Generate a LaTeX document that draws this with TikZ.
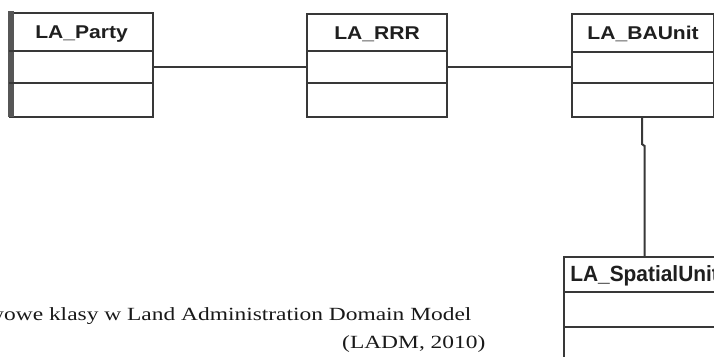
\documentclass[tikz,border=0pt]{standalone}
\usepackage{fontspec}
\setmainfont{Liberation Serif}
\newfontfamily\umlfont[FakeStretch=1.14]{Liberation Sans}
\newfontfamily\umlfontwide[FakeStretch=0.95]{Liberation Sans}
\newfontfamily\capfont[FakeStretch=1.26]{Liberation Serif}
\definecolor{umlline}{HTML}{383838}
\tikzset{
  classbox/.style={draw=umlline, line width=2.2pt, fill=white, inner sep=0pt,
    anchor=north west},
  classtitle/.style={anchor=base, inner sep=0pt,
    font=\umlfont\fontsize{18.5}{20}\selectfont\bfseries, text=black!88},
  compart/.style={draw=umlline, line width=2.2pt},
  assoc/.style={draw=umlline, line width=2pt},
  caption/.style={anchor=base west, inner sep=0pt,
    font=\capfont\fontsize{18.6}{20}\selectfont, text=black!90}
}
\begin{document}
\begin{tikzpicture}[x=1pt,y=-1pt]
\useasboundingbox (0,0) rectangle (714,356);
\clip (0,0) rectangle (714,356);
\fill[white] (0,0) rectangle (714,356);

% class boxes
\node[classbox, minimum width=143pt, minimum height=104pt] (party) at (9,12) {};
\node[classbox, minimum width=140pt, minimum height=103pt] (rrr) at (306,13) {};
\node[classbox, minimum width=142pt, minimum height=103pt] (bau) at (571,13) {};
\node[classbox, minimum width=161pt, minimum height=140pt] (spatial) at (563,256) {};

% heavier left edge of LA_Party
\fill[umlline!85] (8,11) rectangle (13.5,117);

% titles
\node[classtitle] (tparty) at ([yshift=-26.5pt]party.north) {LA\_Party};
\node[classtitle] (trrr) at ([yshift=-26pt]rrr.north) {LA\_RRR};
\node[classtitle] (tbau) at ([yshift=-26pt]bau.north) {LA\_BAUnit};
\node[classtitle, font=\umlfontwide\fontsize{22}{24}\selectfont\bfseries]
  (tspatial) at ([yshift=-25pt]spatial.north) {LA\_SpatialUnit};

% compartment separators
\foreach \c/\a/\b in {party/39/71, rrr/38/70, bau/39/70, spatial/36/71} {
  \draw[compart] ([yshift=-\a pt]\c.north west) -- ([yshift=-\a pt]\c.north east);
  \draw[compart] ([yshift=-\b pt]\c.north west) -- ([yshift=-\b pt]\c.north east);
}

% associations
\draw[assoc] ([yshift=-1.5pt]party.east) -- ([yshift=-1.5pt]party.east -| rrr.west);
\draw[assoc] ([yshift=-1pt]rrr.east) -- ([yshift=-1pt]rrr.east -| bau.west);
\draw[assoc] ([xshift=-1pt]bau.south) -- ++(0,26) -- (spatial.north |- 0,146)
  -- (spatial.north);

% caption
\node[caption] (cap1) at (-13,320) {wowe klasy w Land Administration Domain Model};
\node[caption] (cap2) at (342,348) {(LADM, 2010)};
\end{tikzpicture}
\end{document}
